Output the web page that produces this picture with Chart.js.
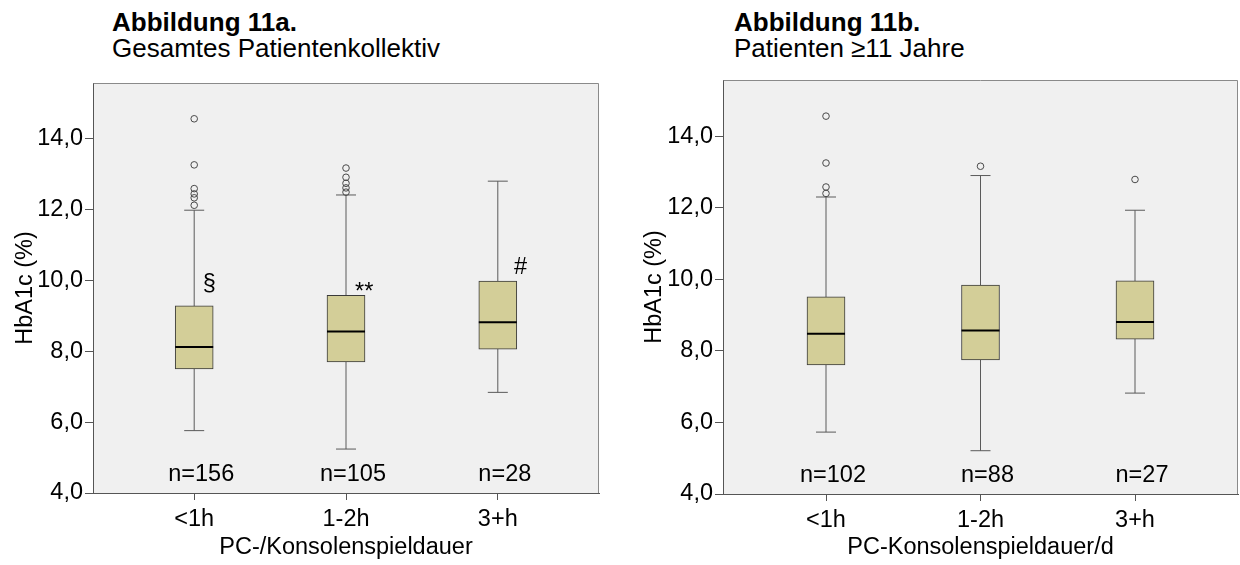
<!DOCTYPE html>
<html>
<head>
<meta charset="utf-8">
<script src="https://cdn.jsdelivr.net/npm/chart.js@4.4.1/dist/chart.umd.min.js"></script>
<style>
  html, body { margin: 0; padding: 0; background: #fff; overflow: hidden; }
  body { width: 1240px; height: 565px; position: relative; font-family: 'Liberation Sans', Arial, sans-serif; }
  .heading { position: absolute; top: 9px; font-size: 26px; line-height: 26px; color: #000; white-space: nowrap; }
  .heading b { display: block; }
  .panel { position: absolute; top: 0; }
</style>
</head>
<body>
<div class="heading" style="left:112px"><b>Abbildung 11a.</b>Gesamtes Patientenkollektiv</div>
<div class="heading" style="left:734px"><b>Abbildung 11b.</b>Patienten ≥11 Jahre</div>
<div class="panel" style="left:0px"><canvas id="chartA" width="620" height="565"></canvas></div>
<div class="panel" style="left:629px"><canvas id="chartB" width="630" height="565"></canvas></div>
<script>
// Spieldauer-Gruppen und y-Achse
const categories = ['<1h', '1-2h', '3+h'];
const yTicks = [4, 6, 8, 10, 12, 14];

// Abb. 11a: gesamtes Kollektiv
const q1A = [7.50, 7.70, 8.06];
const medA = [8.12, 8.56, 8.82];
const q3A = [9.28, 9.58, 9.98];
const lowA = [5.76, 5.24, 6.84];
const highA = [11.98, 12.41, 12.80];
const outA = [[14.56, 13.26, 12.59, 12.44, 12.33, 12.12], [13.17, 12.91, 12.74, 12.61, 12.49], []];
const nA = [156, 105, 28];
const sigA = ['§', '**', '#'];
const sigXA = [1.10, 2.12, 3.15];
const sigYA = [9.71, 9.48, 10.19];

// Abb. 11b: Patienten >= 11 Jahre
const q1B = [7.61, 7.75, 8.33];
const medB = [8.48, 8.57, 8.81];
const q3B = [9.51, 9.84, 9.96];
const lowB = [5.73, 5.21, 6.82];
const highB = [12.30, 12.90, 11.93];
const outB = [[14.56, 13.25, 12.58, 12.40], [13.16], [12.79]];
const nB = [102, 88, 27];

const FONT = "'Liberation Sans', Arial, sans-serif";
const labelFont = { family: FONT, size: 23.5 };
const axisColor = '#555555';
const frameColor = '#8a8a8a';
const plotBg = '#f0f0f0';
const boxFill = '#d3ce98';
const boxEdge = '#3a3a3a';
const whiskerColor = '#5a5a5a';

Chart.defaults.font.family = FONT;

// Hintergrund und Rahmen der Plotfläche
const plotFrame = {
  id: 'plotFrame',
  beforeDraw(chart) {
    const a = chart.chartArea;
    const ctx = chart.ctx;
    ctx.save();
    ctx.fillStyle = plotBg;
    ctx.fillRect(a.left, a.top, a.right - a.left, a.bottom - a.top);
    ctx.restore();
  },
  afterDraw(chart) {
    const a = chart.chartArea;
    const ctx = chart.ctx;
    ctx.save();
    ctx.strokeStyle = frameColor;
    ctx.lineWidth = 1;
    ctx.beginPath();
    ctx.moveTo(Math.round(a.left) + 0.5, Math.round(a.top) + 0.5);
    ctx.lineTo(Math.round(a.right) - 0.5, Math.round(a.top) + 0.5);
    ctx.lineTo(Math.round(a.right) - 0.5, Math.round(a.bottom));
    ctx.stroke();
    ctx.restore();
  }
};

// Fallzahlen und Signifikanzzeichen
const boxNotes = {
  id: 'boxNotes',
  afterDatasetsDraw(chart, args, opts) {
    const xs = chart.scales.x, ys = chart.scales.y;
    const ctx = chart.ctx;
    ctx.save();
    ctx.fillStyle = '#000';
    ctx.font = '23.5px ' + FONT;
    ctx.textAlign = 'center';
    ctx.textBaseline = 'alphabetic';
    (opts.counts || []).forEach((n, i) => {
      ctx.fillText('n=' + n, xs.getPixelForValue(i + 1) + 7, ys.getPixelForValue(4.33));
    });
    (opts.marks || []).forEach((m, i) => {
      ctx.fillText(m, xs.getPixelForValue(opts.markX[i]), ys.getPixelForValue(opts.markY[i]));
    });
    ctx.restore();
  }
};

function boxDatasets(q1, med, q3, low, high, outliers) {
  const xs = categories.map((c, i) => i + 1);
  const sets = [];
  // Whisker-Linien
  xs.forEach((x, i) => {
    sets.push({
      type: 'line', data: [{ x, y: low[i] }, { x, y: high[i] }],
      borderColor: whiskerColor, borderWidth: 1, pointRadius: 0, order: 5
    });
  });
  // Boxen (Q1 bis Q3)
  sets.push({
    type: 'bar', data: xs.map((x, i) => ({ x, y: [q1[i], q3[i]] })),
    backgroundColor: boxFill, borderColor: boxEdge, borderWidth: 1,
    borderSkipped: false, barThickness: 38, order: 4
  });
  // Whisker-Enden
  sets.push({
    type: 'scatter', data: xs.flatMap((x, i) => [{ x, y: low[i] }, { x, y: high[i] }]),
    pointStyle: 'line', pointRadius: 10, borderColor: whiskerColor, borderWidth: 1, order: 3
  });
  // Median
  sets.push({
    type: 'scatter', data: xs.map((x, i) => ({ x, y: med[i] })),
    pointStyle: 'line', pointRadius: 19, borderColor: '#000', borderWidth: 2, order: 2
  });
  // Ausreißer
  sets.push({
    type: 'scatter', data: outliers.flatMap((vals, i) => vals.map(y => ({ x: xs[i], y }))),
    pointStyle: 'circle', pointRadius: 3.3, borderColor: '#4a4a4a',
    backgroundColor: 'rgba(0,0,0,0)', borderWidth: 1, order: 1
  });
  return sets;
}

function makeChart(id, datasets, xTitle, pad, axisW, axisH, notes) {
  return new Chart(document.getElementById(id), {
    type: 'bar',
    data: { datasets },
    plugins: [plotFrame, boxNotes],
    options: {
      responsive: false,
      animation: false,
      events: [],
      layout: { padding: pad },
      plugins: { legend: { display: false }, tooltip: { enabled: false }, boxNotes: notes },
      scales: {
        x: {
          type: 'linear', min: 1 / 3, max: 11 / 3, offset: false,
          afterBuildTicks: s => { s.ticks = categories.map((c, i) => ({ value: i + 1 })); },
          afterFit: s => { s.height = axisH; },
          grid: { drawOnChartArea: false, offset: false, tickLength: 7, tickColor: axisColor },
          border: { color: axisColor, width: 1 },
          ticks: { padding: 5, color: '#000', font: labelFont, maxRotation: 0, autoSkip: false,
                   callback: v => categories[v - 1] },
          title: { display: true, text: xTitle, color: '#000', font: labelFont, padding: { top: 0, bottom: 3 } }
        },
        y: {
          type: 'linear', min: 4, max: 15.57,
          afterBuildTicks: s => { s.ticks = yTicks.map(v => ({ value: v })); },
          afterFit: s => { s.width = axisW; },
          grid: { drawOnChartArea: false, tickLength: 8, tickColor: axisColor },
          border: { color: axisColor, width: 1 },
          ticks: { padding: 2, color: '#000', font: labelFont,
                   callback: v => v.toFixed(1).replace('.', ',') },
          title: { display: true, text: 'HbA1c (%)', color: '#000', font: labelFont, padding: { top: 11, bottom: 0 } }
        }
      }
    }
  });
}

makeChart('chartA', boxDatasets(q1A, medA, q3A, lowA, highA, outA), 'PC-/Konsolenspieldauer',
  { top: 83, right: 14, bottom: 0, left: 0 }, 93, 72,
  { counts: nA, marks: sigA, markX: sigXA, markY: sigYA });

makeChart('chartB', boxDatasets(q1B, medB, q3B, lowB, highB, outB), 'PC-Konsolenspieldauer/d',
  { top: 80, right: 14, bottom: 0, left: 0 }, 94, 71,
  { counts: nB });
</script>
</body>
</html>
